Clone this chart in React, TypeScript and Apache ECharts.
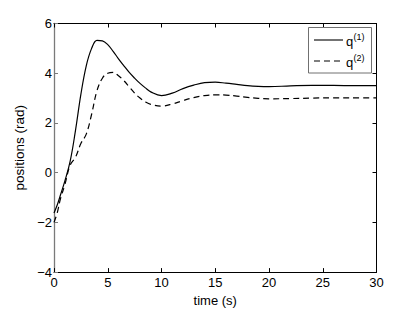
import React, { useEffect, useRef } from "react";
import * as echarts from "echarts";

const timeS = [0, 0.3, 0.6, 1.0, 1.5, 2.0, 2.5, 3.0, 3.5, 4.0, 4.5, 5.0, 5.5, 6.0, 6.5, 7.0, 7.5, 8.0, 8.5, 9.0, 10.0, 11.0, 12.0, 13.0, 14.0, 15.0, 16.0, 17.0, 18.0, 19.0, 20.0, 22.0, 24.0, 26.0, 28.0, 30.0];
const q1 = [-1.62, -1.3, -0.9, -0.35, 0.45, 1.7, 3.15, 4.3, 5.0, 5.32, 5.3, 5.15, 4.88, 4.58, 4.3, 4.03, 3.8, 3.59, 3.41, 3.25, 3.1, 3.2, 3.38, 3.52, 3.62, 3.64, 3.6, 3.55, 3.5, 3.47, 3.46, 3.49, 3.51, 3.51, 3.5, 3.5];
const q2 = [-2.0, -1.62, -1.05, -0.5, 0.3, 0.62, 1.17, 1.55, 2.35, 3.3, 3.8, 4.0, 4.03, 3.9, 3.7, 3.45, 3.2, 3.0, 2.85, 2.75, 2.68, 2.76, 2.9, 3.02, 3.1, 3.13, 3.12, 3.08, 3.03, 2.99, 2.97, 2.98, 3.0, 3.01, 3.01, 3.01];
const xTicks = { min: 0, max: 30, step: 5 };
const yTicks = { min: -4, max: 6, step: 2 };
const seriesNames = ["q", "q"];
const seriesSups = ["(1)", "(2)"];
const xTitle = "time (s)";
const yTitle = "positions (rad)";

const FONT = "'Liberation Sans', Arial, Helvetica, sans-serif";

export default function App() {
  const ref = useRef<HTMLDivElement>(null);
  useEffect(() => {
    if (!ref.current) return;
    const chart = echarts.init(ref.current, undefined, { renderer: "svg" });
    const d1 = timeS.map((t, i) => [t, q1[i]]);
    const d2 = timeS.map((t, i) => [t, q2[i]]);
    const fmt = (v: number) => String(v).replace("-", "\u2212");
    const baseX = {
      type: "value" as const,
      min: xTicks.min,
      max: xTicks.max,
      interval: xTicks.step,
      splitLine: { show: false },
      axisTick: { inside: true, length: 4, lineStyle: { color: "#000" } },
      axisLine: { onZero: false, lineStyle: { color: "#000", width: 1 } },
    };
    const baseY = {
      type: "value" as const,
      min: yTicks.min,
      max: yTicks.max,
      interval: yTicks.step,
      splitLine: { show: false },
    };
    const legendItems: any[] = [];
    legendItems.push({
      type: "rect",
      shape: { x: 308.5, y: 27.5, width: 63, height: 45.5 },
      style: { fill: "#fff", stroke: "#707070", lineWidth: 1 },
      z: 100,
    });
    [0, 1].forEach((i) => {
      const yy = 40 + i * 21;
      legendItems.push({
        type: "line",
        shape: { x1: 314, y1: yy, x2: 343, y2: yy },
        style: { stroke: "#000", lineWidth: 1.1, lineDash: i === 1 ? [6, 4] : null },
        z: 101,
      });
      legendItems.push({
        type: "text",
        x: 346,
        y: yy + 1.5,
        style: { text: seriesNames[i], font: `13px ${FONT}`, fill: "#000", align: "left", verticalAlign: "middle" },
        z: 101,
      });
      legendItems.push({
        type: "text",
        x: 353.5,
        y: yy - 3,
        style: { text: seriesSups[i], font: `9px ${FONT}`, fill: "#000", align: "left", verticalAlign: "middle" },
        z: 101,
      });
    });
    chart.setOption({
      animation: false,
      backgroundColor: "#fff",
      textStyle: { fontFamily: FONT },
      grid: { left: 54, top: 23.5, right: 38.5, bottom: 35, containLabel: false },
      xAxis: [
        {
          ...baseX,
          position: "bottom",
          axisLabel: { color: "#000", fontSize: 13, margin: 4, fontFamily: FONT },
          name: xTitle,
          nameLocation: "middle",
          nameGap: 13,
          nameTextStyle: { color: "#000", fontSize: 13, fontFamily: FONT },
        },
        {
          ...baseX,
          position: "top",
          axisLabel: { show: false },
        },
      ],
      yAxis: [
        {
          ...baseY,
          position: "left",
          axisLine: { onZero: false, lineStyle: { color: "#7a7a7a", width: 1.3 } },
          axisTick: { inside: true, length: 4, lineStyle: { color: "#7a7a7a" } },
          axisLabel: { color: "#000", fontSize: 13, margin: 2, fontFamily: FONT, formatter: fmt },
          name: yTitle,
          nameLocation: "middle",
          nameGap: 21,
          nameTextStyle: { color: "#000", fontSize: 13.5, fontFamily: FONT },
        },
        {
          ...baseY,
          position: "right",
          axisLine: { onZero: false, lineStyle: { color: "#000", width: 1 } },
          axisTick: { inside: true, length: 4, lineStyle: { color: "#000" } },
          axisLabel: { show: false },
        },
      ],
      series: [
        {
          type: "line",
          name: "q1",
          data: d1,
          smooth: 0.4,
          showSymbol: false,
          lineStyle: { color: "#000", width: 1.2, type: "solid" },
          xAxisIndex: 0,
          yAxisIndex: 0,
        },
        {
          type: "line",
          name: "q2",
          data: d2,
          smooth: 0.4,
          showSymbol: false,
          lineStyle: { color: "#000", width: 1.2, type: [6, 4] },
          xAxisIndex: 0,
          yAxisIndex: 0,
        },
      ],
      graphic: legendItems,
    });
    return () => chart.dispose();
  }, []);
  return (
    <div
      ref={ref}
      style={{ position: "fixed", left: 0, top: 0, width: 415, height: 312, background: "#fff" }}
    />
  );
}
